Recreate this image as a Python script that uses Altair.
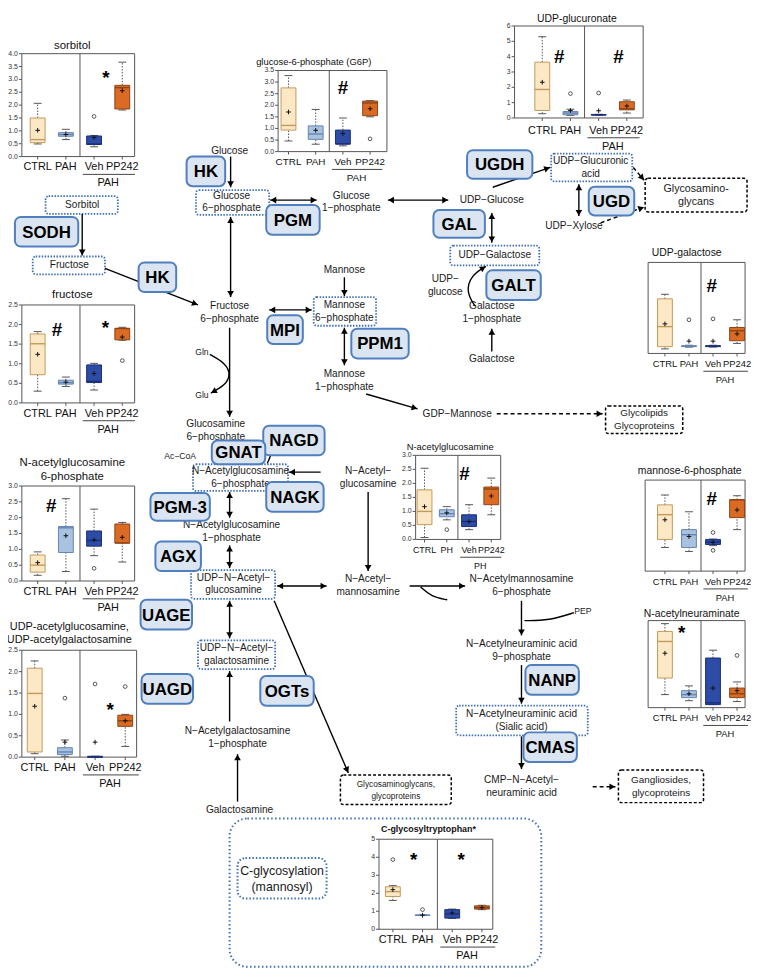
import math
import altair as alt
import pandas as pd

W, H = 752, 961          # drawing area; the page adds an 8 px margin at left and top
M = 8
FONT = "Liberation Sans"

GROUPS = ["CTRL", "PAH", "Veh", "PP242"]
GROUPS_PH = ["CTRL", "PH", "Veh", "PP242"]

# ---------------- box-plot statistics ----------------
SORBITOL = dict(low=[0.49, 0.66, 0.38, 1.81], q1=[0.54, 0.79, 0.47, 1.85],
                med=[0.66, 0.86, 0.49, 2.68], q3=[1.50, 0.93, 0.80, 2.77],
                high=[2.07, 1.06, 0.82, 3.67], mean=[1.02, 0.86, 0.74, 2.56],
                out_g=[2], out_v=[1.56])
G6P = dict(low=[0.46, 0.32, 0.25, 1.50], q1=[0.93, 0.53, 0.33, 1.55],
           med=[1.13, 0.76, 0.33, 2.10], q3=[2.75, 1.11, 0.93, 2.18],
           high=[3.28, 1.82, 1.45, 2.20], mean=[1.71, 0.92, 0.78, 1.85],
           out_g=[3], out_v=[0.55])
UDP_GLCA = dict(low=[0.28, 0.17, 0.18, 0.32], q1=[0.49, 0.21, 0.19, 0.53],
                med=[1.86, 0.32, 0.21, 0.60], q3=[3.64, 0.42, 0.23, 1.06],
                high=[5.30, 0.57, 0.24, 1.17], mean=[2.33, 0.49, 0.47, 0.78],
                out_g=[1, 2], out_v=[1.59, 1.63])
FRUCTOSE = dict(low=[0.30, 0.42, 0.33, 1.60], q1=[0.72, 0.48, 0.52, 1.61],
                med=[1.51, 0.52, 0.55, 1.90], q3=[1.76, 0.58, 0.97, 1.90],
                high=[1.82, 0.66, 1.01, 1.93], mean=[1.24, 0.53, 0.75, 1.68],
                out_g=[3], out_v=[1.08])
NAG6P = dict(low=[0.18, 0.30, 0.80, 0.60], q1=[0.28, 0.90, 1.10, 1.20],
             med=[0.50, 1.68, 1.28, 1.20], q3=[0.82, 1.72, 1.58, 1.80],
             high=[0.92, 2.60, 2.27, 1.85], mean=[0.58, 1.43, 1.30, 1.38],
             out_g=[2], out_v=[0.40])
UDP_GLCNAC = dict(low=[0.08, 0.02, 0.00, 0.25], q1=[0.12, 0.06, 0.00, 0.72],
                  med=[1.49, 0.12, 0.00, 0.85], q3=[2.08, 0.22, 0.02, 0.98],
                  high=[2.25, 0.40, 0.02, 1.00], mean=[1.19, 0.35, 0.35, 0.85],
                  out_g=[1, 2, 3], out_v=[1.38, 1.71, 1.65])
UDP_GAL = dict(low=[0.10, 0.14, 0.14, 0.22], q1=[0.15, 0.15, 0.15, 0.28],
               med=[0.59, 0.16, 0.16, 0.50], q3=[1.20, 0.17, 0.17, 0.57],
               high=[1.30, 0.18, 0.18, 0.74], mean=[0.65, 0.27, 0.27, 0.43],
               out_g=[1, 2], out_v=[0.74, 0.76])
M6P = dict(low=[0.65, 0.54, 0.70, 1.14], q1=[0.87, 0.65, 0.73, 1.47],
           med=[1.55, 1.00, 0.80, 1.96], q3=[1.82, 1.14, 0.87, 1.96],
           high=[2.09, 1.63, 0.88, 2.07], mean=[1.41, 0.95, 0.79, 1.68],
           out_g=[2, 2], out_v=[1.06, 0.57])
NEU5AC = dict(low=[0.30, 0.16, 0.07, 0.14], q1=[0.68, 0.23, 0.07, 0.23],
              med=[1.52, 0.30, 0.11, 0.32], q3=[1.75, 0.39, 1.14, 0.45],
              high=[1.93, 0.50, 1.32, 0.59], mean=[1.25, 0.32, 0.45, 0.39],
              out_g=[3], out_v=[1.20])
GLCNAC = dict(low=[0.07, 0.70, 0.35, 0.88], q1=[0.53, 0.81, 0.46, 1.24],
              med=[1.00, 0.92, 0.64, 1.80], q3=[1.77, 1.06, 0.88, 1.87],
              high=[2.54, 1.17, 1.24, 2.19], mean=[1.17, 0.95, 0.64, 1.55],
              out_g=[1], out_v=[0.35])
CGLYC = dict(low=[1.60, 0.76, 0.60, 1.09], q1=[1.82, 0.77, 0.62, 1.12],
             med=[2.09, 0.78, 0.85, 1.20], q3=[2.36, 0.79, 1.09, 1.30],
             high=[2.42, 0.80, 1.12, 1.33], mean=[2.20, 0.78, 0.91, 1.20],
             out_g=[0, 1], out_v=[3.87, 1.09])

FILL = ["#fde8c5", "#a9c2e0", "#2d4ca6", "#da6a24"]
EDGE = ["#c29a5c", "#6384b4", "#1b2f78", "#8e4414"]

# ---------------- layout of the panels (reference pixels) ----------------
PANELS = [
    dict(stats=SORBITOL, title="sorbitol", ts=11.5, tx=73, ty=41, c0=38, s=28.5,
         frame=(22, 49, 136, 153), ymax=4, step=0.5, fmt=".1f", ylab=True,
         sig=[("*", 2.42, 3.2)]),
    dict(stats=G6P, title="glucose-6-phosphate (G6P)", ts=9.5, tx=317, ty=57, c0=291.5, s=27.5,
         frame=(281, 66, 391, 148), ymax=3.5, step=0.5, fmt=".1f", ylab=True, ls=10,
         sig=[("#", 2.0, 2.9)]),
    dict(stats=UDP_GLCA, title="UDP-glucuronate", ts=10.5, tx=583, ty=14, c0=548, s=28.5,
         frame=(520, 21, 650, 114), ymax=6, step=1, fmt="d", ylab=True, lo=13,
         sig=[("#", 0.6, 4.2), ("#", 2.7, 4.2)]),
    dict(stats=FRUCTOSE, title="fructose", ts=11.5, tx=73, ty=293, c0=38, s=28.5,
         frame=(22, 303, 136, 402), ymax=2.5, step=0.5, fmt=".1f", ylab=True,
         sig=[("#", 0.68, 1.95), ("*", 2.4, 2.0)]),
    dict(stats=NAG6P, title="N-acetylglucosamine\n6-phosphate", ts=11.5, tx=73, ty=470,
         c0=38, s=28.5, frame=(22, 486, 136, 582), ymax=3, step=0.5, fmt=".1f", ylab=True,
         sig=[("#", 0.48, 2.5)]),
    dict(stats=UDP_GLCNAC, title="UDP-acetylglucosamine,\nUDP-acetylgalactosamine", ts=11,
         tx=70, ty=635, c0=35, s=30.5, frame=(22, 652, 138, 760), ymax=2.5, step=0.5,
         fmt=".1f", ylab=True, sig=[("*", 2.5, 1.2)]),
    dict(stats=UDP_GAL, title="UDP-galactose", ts=10.5, tx=694, ty=251, c0=672, s=24.3,
         frame=(655, 260, 753, 352), ymax=2, step=0.5, fmt=".1f", ylab=False, ls=9.5,
         sig=[("#", 1.95, 1.57)]),
    dict(stats=M6P, title="mannose-6-phosphate", ts=10.5, tx=697, ty=471, c0=672, s=24.3,
         frame=(652, 480, 753, 572), ymax=2.5, step=0.5, fmt=".1f", ylab=False, ls=9.5,
         sig=[("#", 1.95, 2.1)]),
    dict(stats=NEU5AC, title="N-acetylneuraminate", ts=10.5, tx=699, ty=615, c0=672, s=24.3,
         frame=(655, 622, 753, 710), ymax=2, step=0.5, fmt=".1f", ylab=False, ls=9.5,
         sig=[("*", 0.7, 1.8)]),
    dict(stats=GLCNAC, title="N-acetylglucosamine", ts=9.5, tx=455, ty=447, c0=429, s=22.5,
         frame=(420, 455, 506, 540), ymax=3, step=0.5, fmt=".1f", ylab=True, ls=9,
         groups=GROUPS_PH, glabel="PH", sig=[("#", 1.8, 2.47)]),
    dict(stats=CGLYC, title="C-glycosyltryptophan*", ts=9, tw="bold", tx=433, ty=833, c0=397,
         s=30, frame=(383, 843, 498, 934), ymax=5, step=1, fmt="d", ylab=True,
         sig=[("*", 0.7, 4.05), ("*", 2.3, 4.05)]),
]

# ---------------- layout of the pathway diagram (reference pixels) ----------------
METABOLITES = [
    ("Glucose", 232, 147), ("Glucose\n6−phosphate", 234, 199), ("Glucose\n1−phosphate", 355, 199),
    ("UDP−Glucose", 497, 197), ("UDP−Glucuronic\nacid", 597, 164), ("UDP−Xylose", 580, 223),
    ("UDP−Galactose", 500, 253), ("UDP−\nglucose", 450, 283), ("Galactose\n1−phosphate", 497, 311),
    ("Galactose", 497, 358), ("Mannose", 348, 268), ("Mannose\n6−phosphate", 348, 310),
    ("Mannose\n1−phosphate", 348, 379), ("Fructose\n6−phosphate", 232, 311),
    ("Sorbitol", 83, 202), ("Fructose", 70, 263),
    ("Glucosamine\n6−phosphate", 218, 430), ("N−Acetylglucosamine\n6−phosphate", 243, 477),
    ("N−Acetyl−\nglucosamine", 372, 477), ("N−Acetylglucosamine\n1−phosphate", 234, 532),
    ("UDP−N−Acetyl−\nglucosamine", 236, 585), ("UDP−N−Acetyl−\ngalactosamine", 239, 656),
    ("N−Acetyl−\nmannosamine", 372, 587), ("N−Acetylmannosamine\n6−phosphate", 527, 587),
    ("N−Acetylneuraminic acid\n9−phosphate", 527, 652),
    ("N−Acetylneuraminic acid\n(Sialic acid)", 527, 723),
    ("CMP−N−Acetyl−\nneuraminic acid", 527, 790), ("GDP−Mannose", 462, 413),
    ("N−Acetylgalactosamine\n1−phosphate", 240, 740), ("Galactosamine", 242, 813),
]
SMALL_TEXT = [("Gln", 204, 351), ("Glu", 204, 394), ("Ac−CoA", 182, 456), ("PEP", 589, 612)]
END_PRODUCTS = [
    ("Glycosamino-\nglycans", 652, 175, 755, 209, 11),
    ("Glycolipids\nGlycoproteins", 612, 405, 690, 433, 10),
    ("Gangliosides,\nglycoproteins", 625, 773, 711, 806, 10),
    ("Glycosaminoglycans,\nglycoproteins", 344, 778, 456, 808, 8.5),
]
ENZYMES = [
    ("HK", 208, 168, 39, 30), ("PGM", 296, 217, 54, 30), ("HK", 159, 275, 38, 30),
    ("SODH", 47, 229, 64, 30), ("MPI", 288, 328, 36, 29), ("PPM1", 384, 342, 58, 30),
    ("UGDH", 505, 161, 66, 29), ("GAL", 464, 221, 52, 28), ("UGD", 618, 198, 46, 29),
    ("GALT", 519, 283, 55, 30), ("NAGD", 297, 440, 62, 30), ("GNAT", 241, 452, 54, 24),
    ("NAGK", 298, 497, 58, 30), ("PGM-3", 182, 507, 60, 28), ("AGX", 180, 557, 46, 30),
    ("UAGE", 168, 616, 52, 30), ("UAGD", 169, 691, 52, 30), ("OGTs", 290, 693, 54, 30),
    ("NANP", 558, 682, 54, 30), ("CMAS", 556, 750, 54, 30),
]
DOTTED = [
    (198, 187, 272, 212), (557, 150, 639, 178), (455, 243, 545, 263), (317, 295, 380, 324),
    (46, 193, 119, 211), (33, 254, 106, 272), (195, 464, 291, 491), (193, 571, 278, 600),
    (200, 642, 278, 671), (461, 708, 594, 738),
]
ARROWS = [  # x1, y1, x2, y2, heads, dashed
    (233, 153, 233, 184, "end", 0), (233, 214, 233, 295, "both", 0),
    (273, 197, 320, 197, "both", 0), (392, 197, 453, 197, "both", 0),
    (498, 184, 556, 164, "end", 0), (585, 181, 585, 213, "both", 0),
    (640, 164, 651, 177, "end", 1), (607, 220, 651, 204, "end", 1),
    (497, 210, 497, 240, "both", 0), (497, 350, 497, 327, "end", 0),
    (83, 211, 83, 253, "end", 0), (106, 266, 200, 303, "end", 0),
    (272, 308, 315, 308, "both", 0), (348, 275, 348, 294, "end", 0),
    (348, 326, 348, 364, "both", 0), (370, 393, 422, 408, "end", 0),
    (502, 413, 609, 413, "end", 1), (232, 326, 232, 416, "end", 0),
    (292, 472, 324, 472, "start", 0), (232, 492, 232, 518, "both", 0),
    (232, 546, 232, 569, "both", 0), (232, 602, 232, 640, "both", 0),
    (280, 587, 330, 587, "both", 0), (372, 492, 372, 572, "end", 0),
    (414, 587, 470, 587, "end", 0), (527, 602, 527, 637, "end", 0),
    (527, 667, 527, 706, "end", 0), (527, 739, 527, 772, "end", 0),
    (599, 790, 622, 790, "end", 1), (232, 724, 232, 673, "end", 0),
    (240, 805, 240, 757, "end", 0), (277, 602, 352, 776, "end", 0),
]
CURVES = [  # points, arrow head at end?
    ([(212, 353), (228, 362), (233, 373), (228, 384), (213, 392)], True),
    ([(480, 304), (471, 290), (476, 273), (491, 264)], True),
    ([(268, 440), (276, 451), (270, 463)], False),
    ([(425, 588), (436, 598), (452, 601)], False),
    ([(580, 614), (555, 622), (530, 622)], False),
]
BIG_FRAME = (232, 822, 547, 972)
INNER_FRAME = (240, 862, 330, 903)
INNER_TEXT = ("C-glycosylation\n(mannosyl)", 285, 883)


# ---------------- helpers ----------------
def dx(f):
    return alt.X(f"{f}:Q", scale=alt.Scale(domain=[M, M + W], range=[0, W], nice=False, zero=False), axis=None)


def dy(f):
    return alt.Y(f"{f}:Q", scale=alt.Scale(domain=[M, M + H], range=[0, H], nice=False, zero=False), axis=None)


def first_line_y(label, yc, lh):
    """Vega puts the first line of a multi-line text at y; centre the block on yc."""
    return yc - (label.count("\n")) * lh / 2


def rects(rows, **mark):
    df = pd.DataFrame(rows, columns=["xa", "ya", "xb", "yb"])
    return alt.Chart(df).mark_rect(**mark).encode(x=dx("xa"), x2="xb", y=dy("ya"), y2="yb")


def texts(rows, lh=13, **mark):
    df = pd.DataFrame([(t, x, first_line_y(t, y, lh)) for t, x, y in rows], columns=["t", "x", "y"])
    return alt.Chart(df).mark_text(font=FONT, lineBreak="\n", lineHeight=lh, **mark).encode(
        x=dx("x"), y=dy("y"), text="t:N")


def head(x, y, vx, vy):
    L = math.hypot(vx, vy)
    ux, uy = vx / L, vy / L
    return dict(x=x - 3.2 * ux, y=y - 3.2 * uy, ang=math.degrees(math.atan2(ux, -uy)) % 360)


layers = []

layers.append(rects([BIG_FRAME], cornerRadius=18, fillOpacity=0, stroke="#3d6fb6",
                    strokeWidth=2, strokeDash=[1.5, 2.5]))
layers.append(rects([INNER_FRAME], cornerRadius=8, fillOpacity=0, stroke="#3d6fb6",
                    strokeWidth=2, strokeDash=[1.5, 2]))
layers.append(rects(DOTTED, cornerRadius=3, fill="white", stroke="#3d6fb6",
                    strokeWidth=1.8, strokeDash=[1.5, 1.5]))
layers.append(rects([r[1:5] for r in END_PRODUCTS], cornerRadius=3, fill="white",
                    stroke="black", strokeWidth=1.5, strokeDash=[3, 2]))

arr = pd.DataFrame(ARROWS, columns=["x1", "y1", "x2", "y2", "h", "d"])
for dash, extra in ((0, {}), (1, {"strokeDash": [4, 3]})):
    sub = arr[arr.d == dash]
    layers.append(alt.Chart(sub).mark_rule(color="black", strokeWidth=1.4, **extra).encode(
        x=dx("x1"), y=dy("y1"), x2="x2", y2="y2"))

curve_rows, heads = [], []
for cid, (pts, has_head) in enumerate(CURVES):
    for k, (x, y) in enumerate(pts):
        curve_rows.append(dict(cid=cid, k=k, x=x, y=y))
    if has_head:
        (xa, ya), (xb, yb) = pts[-2], pts[-1]
        heads.append(head(xb, yb, xb - xa, yb - ya))
layers.append(alt.Chart(pd.DataFrame(curve_rows)).mark_line(
    interpolate="basis", color="black", strokeWidth=1.4).encode(
    x=dx("x"), y=dy("y"), detail="cid:N", order="k:Q"))

for x1, y1, x2, y2, h, d in ARROWS:
    if h in ("end", "both"):
        heads.append(head(x2, y2, x2 - x1, y2 - y1))
    if h in ("start", "both"):
        heads.append(head(x1, y1, x1 - x2, y1 - y2))
layers.append(alt.Chart(pd.DataFrame(heads)).mark_point(
    shape="triangle-up", filled=True, size=45, color="black", opacity=1).encode(
    x=dx("x"), y=dy("y"), angle=alt.Angle("ang:Q", scale=None)))

layers.append(texts(METABOLITES, lh=13, fontSize=10.2, color="#1a1a1a"))
layers.append(texts(SMALL_TEXT, fontSize=8.7, color="#1a1a1a"))
ep = [(r[0], (r[1] + r[3]) / 2, (r[2] + r[4]) / 2) for r in END_PRODUCTS]
layers.append(texts(ep[:1], lh=13, fontSize=10.8, color="#1a1a1a"))
layers.append(texts(ep[1:3], lh=13, fontSize=10, color="#1a1a1a"))
layers.append(texts(ep[3:], lh=12, fontSize=8.4, color="#1a1a1a"))
layers.append(texts([INNER_TEXT], lh=16, fontSize=12.5, color="#1a1a1a"))

enz_rect = [(x - w / 2, y - h / 2, x + w / 2, y + h / 2) for _, x, y, w, h in ENZYMES]
layers.append(rects(enz_rect, cornerRadius=6, fill="#dbe5f1", stroke="#4f7fbf", strokeWidth=2))
layers.append(texts([(n, x, y + 1) for n, x, y, _, _ in ENZYMES], fontSize=17,
                    fontWeight="bold", color="black"))


# ---------------- box-plot panels ----------------
def panel(p):
    st = p["stats"]
    groups = p.get("groups", GROUPS)
    n = len(groups)
    c0, s = p["c0"], p["s"]
    x0, y0, x1, y1 = p["frame"]
    dlo, dhi = (x0 - c0) / s, (x1 - c0) / s
    XS = alt.Scale(domain=[dlo, dhi], range=[x0 - M, x1 - M], nice=False, zero=False)
    YS = alt.Scale(domain=[0, p["ymax"]], range=[y1 - M, y0 - M], nice=False, zero=False)
    ls = p.get("ls", 11)
    lo = p.get("lo", 11)

    def X(f):
        return alt.X(f"{f}:Q", scale=XS, axis=None)

    def Y(f):
        return alt.Y(f"{f}:Q", scale=YS, axis=None)

    df = pd.DataFrame({"i": list(range(n)), "g": groups, "low": st["low"], "q1": st["q1"],
                       "med": st["med"], "q3": st["q3"], "high": st["high"], "mean": st["mean"],
                       "fill": FILL, "edge": EDGE})
    bw, cw = 15.0 / s, 8.0 / s
    df["xa"], df["xb"] = df.i - bw / 2, df.i + bw / 2
    df["ca"], df["cb"] = df.i - cw / 2, df.i + cw / 2
    base = alt.Chart(df)
    L = []

    # frame + divider
    fr = pd.DataFrame({"xa": [dlo], "xb": [dhi], "ya": [0], "yb": [p["ymax"]]})
    L.append(alt.Chart(fr).mark_rect(fillOpacity=0, stroke="#555", strokeWidth=1).encode(
        x=X("xa"), x2="xb", y=Y("ya"), y2="yb"))
    L.append(alt.Chart(pd.DataFrame({"x": [1.5], "ya": [0], "yb": [p["ymax"]]})).mark_rule(
        color="#555", strokeWidth=1).encode(x=X("x"), y=Y("ya"), y2="yb"))

    # x axis: ticks + category labels
    L.append(base.mark_rule(color="#555", strokeWidth=1).encode(
        x=X("i"), y=alt.value(y1 - M), y2=alt.value(y1 - M + 3)))
    L.append(base.mark_text(font=FONT, fontSize=ls, color="#111").encode(
        x=X("i"), y=alt.value(y1 - M + lo), text="g:N"))

    # y axis: ticks + labels
    if p["ylab"]:
        nt = int(round(p["ymax"] / p["step"]))
        tk = pd.DataFrame({"v": [round(k * p["step"], 3) for k in range(nt + 1)]})
        L.append(alt.Chart(tk).mark_rule(color="#555", strokeWidth=1).encode(
            x=alt.value(x0 - M - 3), x2=alt.value(x0 - M), y=Y("v")))
        L.append(alt.Chart(tk).mark_text(font=FONT, fontSize=7, color="#333", align="right").encode(
            x=alt.value(x0 - M - 4), y=Y("v"), text=alt.Text("v:Q", format=p["fmt"])))

    # box plots
    dotted = dict(color="#555", strokeWidth=1, strokeDash=[1.5, 1.5])
    L.append(base.mark_rule(**dotted).encode(x=X("i"), y=Y("low"), y2="q1"))
    L.append(base.mark_rule(**dotted).encode(x=X("i"), y=Y("q3"), y2="high"))
    L.append(base.mark_rule(color="#555", strokeWidth=1).encode(x=X("ca"), x2="cb", y=Y("low")))
    L.append(base.mark_rule(color="#555", strokeWidth=1).encode(x=X("ca"), x2="cb", y=Y("high")))
    L.append(base.mark_rect(strokeWidth=1).encode(
        x=X("xa"), x2="xb", y=Y("q1"), y2="q3",
        fill=alt.Fill("fill:N", scale=None), stroke=alt.Stroke("edge:N", scale=None)))
    L.append(base.mark_rule(strokeWidth=1.4).encode(
        x=X("xa"), x2="xb", y=Y("med"), color=alt.Color("edge:N", scale=None)))
    L.append(base.mark_point(shape="M-1,0L1,0M0,-1L0,1", size=22, filled=False, color="#111",
                             strokeWidth=1, opacity=1).encode(x=X("i"), y=Y("mean")))
    out = pd.DataFrame({"i": st["out_g"], "v": st["out_v"]})
    L.append(alt.Chart(out).mark_point(shape="circle", size=14, filled=False, color="#444",
                                       strokeWidth=0.9, opacity=1).encode(x=X("i"), y=Y("v")))
    sig = pd.DataFrame(p["sig"], columns=["t", "x", "y"])
    L.append(alt.Chart(sig).mark_text(font=FONT, fontSize=19, fontWeight="bold", color="black",
                                      dy=4).encode(x=X("x"), y=Y("y"), text="t:N"))

    # group bracket under the treatment groups
    ul = pd.DataFrame({"xa": [1.6], "xb": [3.45]})
    L.append(alt.Chart(ul).mark_rule(color="#444", strokeWidth=1).encode(
        x=X("xa"), x2="xb", y=alt.value(y1 - M + lo + 7)))
    gl = pd.DataFrame({"x": [2.5], "t": [p.get("glabel", "PAH")]})
    L.append(alt.Chart(gl).mark_text(font=FONT, fontSize=ls, color="#111").encode(
        x=X("x"), y=alt.value(y1 - M + lo + 16), text="t:N"))

    lh = p["ts"] + 2.5
    tt = pd.DataFrame({"t": [p["title"]]})
    L.append(alt.Chart(tt).mark_text(font=FONT, fontSize=p["ts"], fontWeight=p.get("tw", "normal"),
                                     color="#111", lineBreak="\n", lineHeight=lh).encode(
        x=alt.value(p["tx"] - M), y=alt.value(first_line_y(p["title"], p["ty"], lh) - M),
        text="t:N"))
    return alt.layer(*L)


for p in PANELS:
    layers.append(panel(p))

chart = alt.layer(*layers).resolve_scale(x="independent", y="independent").properties(
    width=W, height=H, autosize=alt.AutoSizeParams(type="none"), padding=0,
    background="white").configure_view(stroke=None)

chart.save("out.html", embed_options={"renderer": "svg", "actions": False})
